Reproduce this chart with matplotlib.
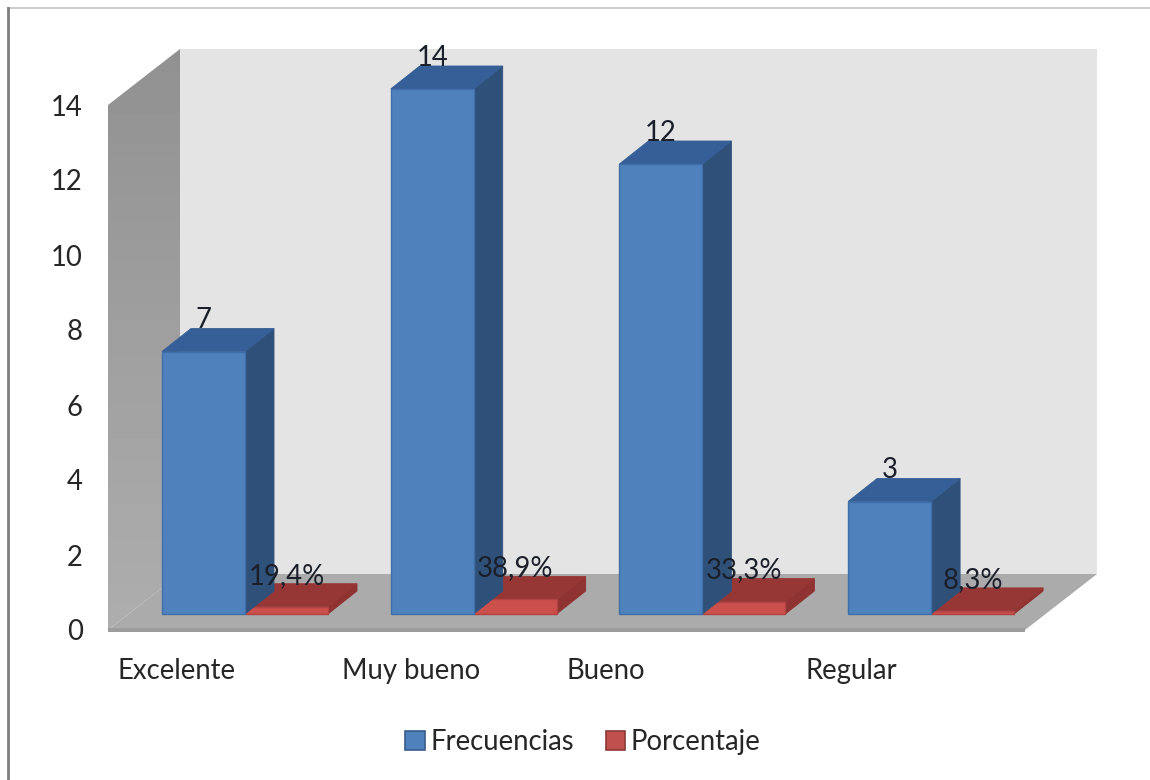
import numpy as np
import matplotlib
matplotlib.use('Agg')
import matplotlib.pyplot as plt
from matplotlib.lines import Line2D
from matplotlib.patches import Patch, Polygon

categorias = ['Excelente', 'Muy bueno', 'Bueno', 'Regular']
frecuencias = [7, 14, 12, 3]
porcentaje = [19.4, 38.9, 33.3, 8.3]
y_ticks = [0, 2, 4, 6, 8, 10, 12, 14]

plt.rcParams['font.family'] = ['Lato', 'DejaVu Sans']
TEXT = '#262626'
FONT = 19.8
W, H = 1150, 780

# plot area in pixels, x unit = one category group
LEFT, RIGHT, BOTTOM, TOP = 108, 1025, 630, 105
X_UNIT = 228.7
Y_UNIT = (BOTTOM - TOP) / 14
GROUP0 = 245
BAR_W = 83 / X_UNIT
# box depth and wall depth, converted to data units
BOX_DX, BOX_DY = 29 / X_UNIT, 23 / Y_UNIT
WALL_DX, WALL_DY = 72 / X_UNIT, 56 / Y_UNIT
BASE = 16 / Y_UNIT

fig = plt.figure(figsize=(W / 100, H / 100), dpi=100, facecolor='white')
ax = fig.add_axes([LEFT / W, (H - BOTTOM) / H, (RIGHT - LEFT) / W, (BOTTOM - TOP) / H])
xmin, xmax = (LEFT - GROUP0) / X_UNIT, (RIGHT - GROUP0) / X_UNIT
ax.patch.set_visible(False)
for s in ax.spines.values():
    s.set_visible(False)


def poly(pts, color, z, edge='none', lw=0):
    p = Polygon(pts, closed=True, facecolor=color, edgecolor=edge, linewidth=lw,
                zorder=z, clip_on=False)
    ax.add_patch(p)
    return p


# back wall, floor and left wall
poly([(xmin + WALL_DX, WALL_DY), (xmax + WALL_DX, WALL_DY),
      (xmax + WALL_DX, 14 + WALL_DY), (xmin + WALL_DX, 14 + WALL_DY)], '#E4E4E4', 1)
poly([(xmin, 0), (xmin + WALL_DX, WALL_DY), (xmax + WALL_DX, WALL_DY), (xmax, 0)], '#ABABAB', 1)
left_wall = poly([(xmin, 0), (xmin + WALL_DX, WALL_DY), (xmin + WALL_DX, 14 + WALL_DY), (xmin, 14)],
                 'none', 2)
grad = np.linspace(0.68, 0.57, 64).reshape(-1, 1)
img = ax.imshow(grad, cmap='gray', vmin=0, vmax=1, aspect='auto', origin='lower', zorder=2,
                extent=(xmin, xmin + WALL_DX, 0, 14 + WALL_DY))
# the wall rises above the axes box, so clip to the figure and the wall outline
img.set_clip_box(fig.bbox)
img.set_clip_path(left_wall)
# front lip of the floor
ax.fill_between([xmin, xmax], -2 / Y_UNIT, 2 / Y_UNIT, color='#9C9C9C', zorder=3, lw=0, clip_on=False)


def boxes(x_left, values, front, side, top, edge, z):
    ax.bar(x_left, values, width=BAR_W, bottom=BASE, align='edge', color=front,
           edgecolor=edge, linewidth=1, zorder=z + 1, clip_on=False)
    for x0, v in zip(x_left, values):
        x1 = x0 + BAR_W
        y1 = BASE + v
        poly([(x1, BASE), (x1 + BOX_DX, BASE + BOX_DY), (x1 + BOX_DX, y1 + BOX_DY), (x1, y1)],
             side, z, side, 0.6)
        poly([(x0, y1), (x0 + BOX_DX, y1 + BOX_DY), (x1 + BOX_DX, y1 + BOX_DY), (x1, y1)],
             top, z, top, 0.6)


groups = np.arange(len(categorias))
# red boxes first, the blue ones stand in front of their shadowed side
boxes(groups, [p / 100 for p in porcentaje], '#CB4F4B', '#8E3331', '#963735', '#B04442', 4)
boxes(groups - BAR_W, frecuencias, '#4F81BD', '#2F5179', '#355F96', '#3F6FA8', 6)

# value labels sit a fixed distance above each box
for i, (f, p) in enumerate(zip(frecuencias, porcentaje)):
    ax.annotate(str(f), (i - BAR_W / 2, BASE + f), xytext=(0, 31), textcoords='offset pixels',
                ha='center', va='center', fontsize=FONT, color='#1a1f2a', zorder=10, annotation_clip=False)
    ax.annotate(f'{p:.1f}%'.replace('.', ','), (i + BAR_W / 2, BASE + p / 100), xytext=(0, 31),
                textcoords='offset pixels', ha='center', va='center', fontsize=FONT,
                color='#1a1f2a', zorder=10, annotation_clip=False)

ax.set_xlim(xmin, xmax)
ax.set_ylim(0, 14)
ax.set_yticks(y_ticks)
ax.tick_params(axis='y', length=0, pad=18, labelsize=FONT, labelcolor=TEXT)
# the category labels are not centred on their groups
label_px = [176, 411, 606, 851]
ax.set_xticks([(px - GROUP0) / X_UNIT for px in label_px], categorias)
ax.tick_params(axis='x', length=0, pad=20, labelsize=FONT, labelcolor=TEXT)

handles = [Patch(facecolor='#4F81BD', edgecolor='#385D8A', linewidth=1.2, label='Frecuencias'),
           Patch(facecolor='#C0504D', edgecolor='#8C3836', linewidth=1.2, label='Porcentaje')]
fig.legend(handles=handles, loc='center', bbox_to_anchor=(583 / W, (H - 742) / H), ncol=2, frameon=False,
           fontsize=FONT, labelcolor=TEXT, handlelength=0.7, handleheight=0.7, handletextpad=0.2,
           columnspacing=1.17, borderpad=0)

# outer frame
fig.add_artist(Line2D([8 / W, 1], [(H - 8) / H] * 2, color='#C4C4C4', lw=1.2))
fig.add_artist(Line2D([8 / W, 8 / W], [0, (H - 8) / H], color='#7F7F7F', lw=2))

fig.savefig('out.png', dpi=100)
